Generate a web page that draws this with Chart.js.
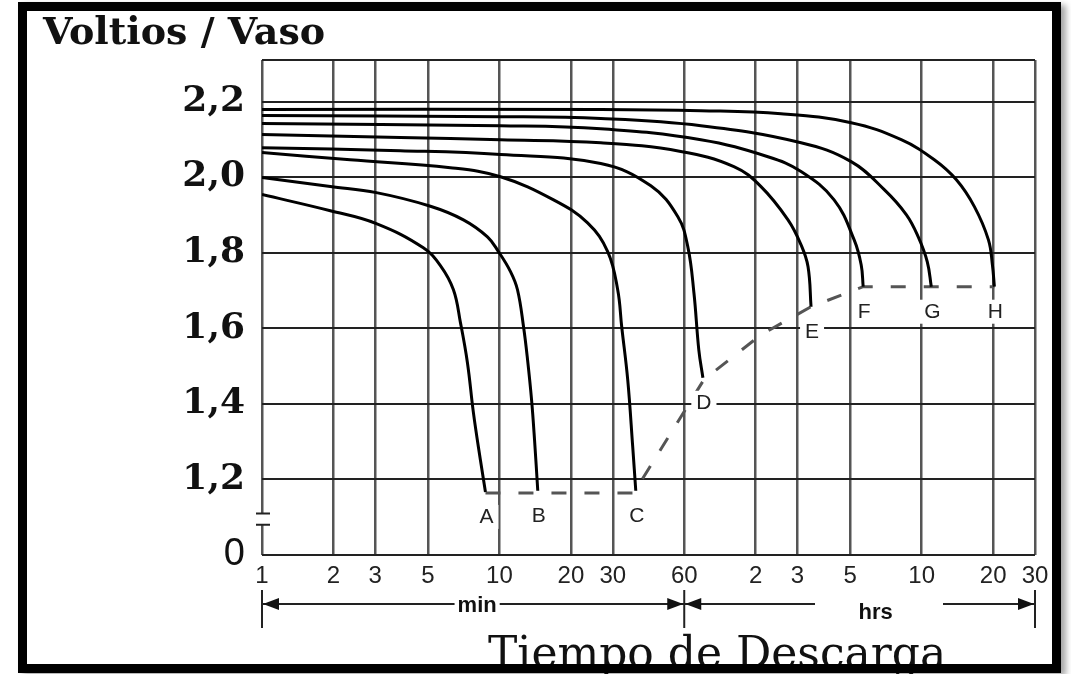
<!DOCTYPE html>
<html lang="es">
<head>
  <meta charset="UTF-8">
  <title>Voltios / Vaso — Tiempo de Descarga</title>
  <script src="https://cdn.jsdelivr.net/npm/chart.js@4"></script>
  <style>
    body {
      margin: 0;
      background: #fff;
      width: 1071px;
      height: 674px;
      overflow: hidden;
      position: relative;
    }
    #chart {
      position: absolute;
      left: 0;
      top: 0;
    }
    .frame {
      position: absolute;
      left: 18px;
      top: 2px;
      width: 1043px;
      height: 671px;
      box-sizing: border-box;
      border: 9px solid #000;
      box-shadow: 5px 3px 6px rgba(0,0,0,0.35);
      pointer-events: none;
    }
  </style>
</head>
<body>
  <canvas id="chart" width="1071" height="674"></canvas>
  <div class="frame"></div>

  <script>
    // eje X: minutos (escala logarítmica 1 min ... 30 h)
    const xTicks = [1, 2, 3, 5, 10, 20, 30, 60, 120, 180, 300, 600, 1200, 1800];
    const xTickLabels = ['1', '2', '3', '5', '10', '20', '30', '60', '2', '3', '5', '10', '20', '30'];
    // eje Y: voltios por vaso (el "0" es el corte del eje)
    const yTicks = [1.0, 1.2, 1.4, 1.6, 1.8, 2.0, 2.2];
    const yTickLabels = ['0', '1,2', '1,4', '1,6', '1,8', '2,0', '2,2'];
    const yMax = 2.31;

    const curveNames = ['A', 'B', 'C', 'D', 'E', 'F', 'G', 'H'];

    // [minutos, voltios]
    const curveA = [[1, 1.954], [1.94, 1.911], [3.03, 1.877], [4.78, 1.813], [5.64, 1.766], [6.40, 1.702],
                    [6.85, 1.615], [7.33, 1.509], [7.77, 1.376], [8.31, 1.252], [8.73, 1.167]];
    const curveB = [[1, 1.999], [1.94, 1.975], [3.03, 1.959], [5.12, 1.923], [7.05, 1.887], [8.90, 1.842],
                    [9.90, 1.803], [11.13, 1.750], [11.91, 1.702], [12.63, 1.604], [13.13, 1.517],
                    [13.65, 1.411], [14.05, 1.305], [14.5, 1.17]];
    const curveC = [[1, 2.065], [2.35, 2.046], [6.21, 2.025], [10.1, 2.001], [16.9, 1.940], [23.5, 1.879],
                    [28.56, 1.803], [31.47, 1.702], [32.72, 1.604], [34.68, 1.464], [36.41, 1.286], [37.5, 1.17]];
    const curveD = [[1, 2.078], [3.82, 2.070], [10.1, 2.060], [26.7, 2.036], [43.4, 1.977], [56.4, 1.895],
                    [62.1, 1.816], [65.9, 1.694], [69.1, 1.543], [71.9, 1.469]];
    const curveE = [[1, 2.113], [3.82, 2.105], [10.1, 2.099], [26.7, 2.091], [58.0, 2.068], [97.1, 2.028],
                    [126.3, 1.975], [164.1, 1.887], [186.2, 1.821], [199.3, 1.763], [205.2, 1.657]];
    const curveF = [[1, 2.142], [10.1, 2.136], [26.7, 2.128], [70.5, 2.099], [135.1, 2.054], [186.2, 2.015],
                    [256.6, 1.940], [311.7, 1.834], [333.6, 1.768], [340.2, 1.710]];
    const curveG = [[1, 2.163], [10.1, 2.160], [26.7, 2.155], [70.5, 2.136], [186.2, 2.091], [302.7, 2.041],
                    [417.3, 1.967], [516.6, 1.901], [580.2, 1.842], [633.4, 1.776], [658.5, 1.710]];
    const curveH = [[1, 2.179], [26.7, 2.179], [70.5, 2.176], [153.4, 2.168], [302.7, 2.144], [492, 2.099],
                    [678, 2.046], [840, 1.993], [1000, 1.922], [1146, 1.834], [1191, 1.768], [1214, 1.710]];
    // línea de tensión final (discontinua)
    const endLine = [[8.73, 1.164], [36.77, 1.164], [72.6, 1.464], [126.3, 1.583], [205.2, 1.657],
                     [340.2, 1.710], [1214, 1.710]];

    const curves = [curveA, curveB, curveC, curveD, curveE, curveF, curveG, curveH];
    const toXY = arr => arr.map(([x, y]) => ({ x, y }));

    const SERIF = '"DejaVu Serif", "Liberation Serif", serif';
    const SANS = '"Liberation Sans", Arial, Helvetica, sans-serif';

    // textos, flechas min/hrs, corte del eje y letras de las curvas
    const decor = {
      id: 'decor',
      afterDatasetsDraw(chart) {
        const { ctx } = chart;
        ctx.save();
        ctx.font = '21px ' + SANS;
        ctx.textAlign = 'center';
        ctx.textBaseline = 'middle';
        curveNames.forEach((name, i) => {
          const pts = chart.getDatasetMeta(i).data;
          const end = pts[pts.length - 1];
          const lx = end.x + 1, ly = end.y + 25;
          const w = ctx.measureText(name).width + 10;
          ctx.fillStyle = '#fff';
          ctx.fillRect(lx - w / 2, ly - 12, w, 24);
          ctx.fillStyle = '#222';
          ctx.fillText(name, lx, ly);
        });
        ctx.restore();
      },
      afterDraw(chart) {
        const { ctx, scales: { x, y } } = chart;
        ctx.save();
        ctx.fillStyle = '#111';
        ctx.strokeStyle = '#222';

        // titulos
        ctx.textAlign = 'left';
        ctx.textBaseline = 'alphabetic';
        ctx.font = 'bold 38px ' + SERIF;
        ctx.fillText('Voltios / Vaso', 43, 44);
        ctx.font = '44px ' + SERIF;
        ctx.fillText('Tiempo de Descarga', 488, 668);

        // corte del eje
        const bx = x.left, byTop = y.getPixelForValue(1.11), byBot = y.getPixelForValue(1.08);
        ctx.fillStyle = '#fff';
        ctx.fillRect(bx - 3, byTop, 6, byBot - byTop);
        ctx.lineWidth = 2;
        ctx.beginPath();
        ctx.moveTo(bx - 6, byTop); ctx.lineTo(bx + 8, byTop);
        ctx.moveTo(bx - 6, byBot); ctx.lineTo(bx + 8, byBot);
        ctx.stroke();

        // flechas min / hrs
        const x1 = x.getPixelForValue(1), x60 = x.getPixelForValue(60), xEnd = x.getPixelForValue(1800);
        const ay = 604;
        const head = (tx, dir) => {
          ctx.beginPath();
          ctx.moveTo(tx, ay);
          ctx.lineTo(tx - dir * 16, ay - 6);
          ctx.lineTo(tx - dir * 16, ay + 6);
          ctx.closePath();
          ctx.fill();
        };
        ctx.fillStyle = '#111';
        ctx.lineWidth = 2;
        ctx.beginPath();
        [x1, x60, xEnd].forEach(px => { ctx.moveTo(px, 590); ctx.lineTo(px, 628); });
        ctx.moveTo(x1, ay); ctx.lineTo(x60, ay);
        ctx.moveTo(x60, ay); ctx.lineTo(815, ay);
        ctx.moveTo(943, ay); ctx.lineTo(xEnd, ay);
        ctx.stroke();
        head(x1 + 1, -1);
        head(x60 - 1, 1);
        head(x60 + 1, -1);
        head(xEnd - 1, 1);

        ctx.font = 'bold 22px ' + SANS;
        ctx.textAlign = 'center';
        ctx.textBaseline = 'middle';
        const minX = (x1 + x60) / 2 + 4;
        const mw = ctx.measureText('min').width + 6;
        ctx.fillStyle = '#fff';
        ctx.fillRect(minX - mw / 2, ay - 10, mw, 20);
        ctx.fillStyle = '#111';
        ctx.fillText('min', minX, ay + 2);
        ctx.fillText('hrs', (x60 + xEnd) / 2 + 16, ay + 9);
        ctx.restore();
      }
    };

    const datasets = curves.map((c, i) => ({
      label: curveNames[i],
      data: toXY(c),
      borderColor: '#000',
      borderWidth: 3,
      pointRadius: 0,
      tension: 0.4,
      fill: false
    }));
    datasets.push({
      label: 'fin',
      data: toXY(endLine),
      borderColor: '#555',
      borderWidth: 3,
      borderDash: [15, 18],
      pointRadius: 0,
      tension: 0,
      fill: false
    });

    new Chart(document.getElementById('chart'), {
      type: 'line',
      data: { datasets },
      options: {
        responsive: false,
        animation: false,
        layout: { padding: { left: 0, top: 60, right: 36, bottom: 0 } },
        plugins: {
          legend: { display: false },
          title: { display: false },
          tooltip: { enabled: false }
        },
        scales: {
          x: {
            type: 'logarithmic',
            min: 1,
            max: 1800,
            afterBuildTicks: s => { s.ticks = xTicks.map(v => ({ value: v })); },
            afterFit: s => { s.height = 119; },
            ticks: {
              autoSkip: false,
              maxRotation: 0,
              padding: 7,
              color: '#222',
              font: { family: SANS, size: 24 },
              callback: (v, i) => xTickLabels[i]
            },
            grid: { color: '#555', lineWidth: 2.5, drawTicks: false },
            border: { display: false }
          },
          y: {
            type: 'linear',
            min: 1.0,
            max: yMax,
            afterBuildTicks: s => { s.ticks = yTicks.concat([yMax]).map(v => ({ value: v })); },
            afterFit: s => { s.width = 262; },
            ticks: {
              autoSkip: false,
              padding: 17,
              color: '#111',
              font: c => (c.tick && c.tick.value === 1)
                ? { family: SANS, size: 38 }
                : { family: SERIF, size: 36, weight: 'bold' },
              callback: (v, i) => yTickLabels[i] ?? ''
            },
            grid: { color: '#222', lineWidth: 2, drawTicks: false },
            border: { display: false }
          }
        }
      },
      plugins: [decor]
    });
  </script>
</body>
</html>
